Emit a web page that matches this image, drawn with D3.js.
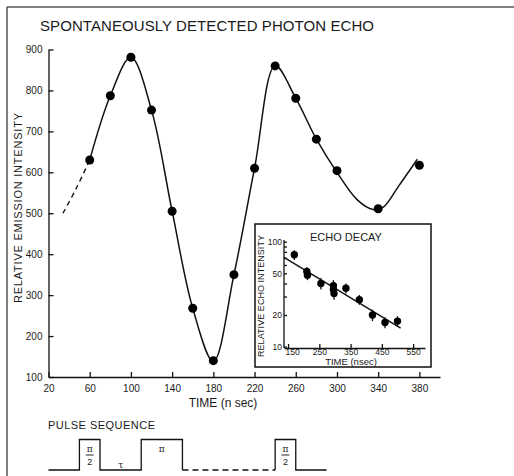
<!DOCTYPE html>
<html>
<head>
<meta charset="utf-8">
<title>Spontaneously Detected Photon Echo</title>
<script src="https://cdn.jsdelivr.net/npm/d3@7"></script>
<style>
body { margin: 0; background: #fff; }
svg text { font-family: "Liberation Sans", Arial, sans-serif; fill: #1a1a1a; }
.axis path, .axis line { stroke: #111; stroke-width: 1.3px; }
.axis text { font-size: 10px; }
</style>
</head>
<body>
<script>
// main plot - echo intensity vs time
var times = [60, 80, 100, 120, 140, 160, 180, 200, 220, 240, 260, 280, 300, 340, 380];
var intensity = [630, 787, 881, 752, 505, 268, 140, 350, 610, 860, 781, 681, 604, 511, 617];

// the drawn fit curve
var fitTimes = [60, 80, 100, 120, 140, 160, 180, 200, 220, 240, 260, 280, 300, 320, 335, 345, 360, 378];
var fitValues = [630, 787, 881, 752, 505, 268, 138, 350, 610, 860, 781, 681, 600, 532, 509, 515, 567, 632];
var dashTimes = [34, 47, 60];
var dashValues = [500, 561, 630];

var xTicks = [20, 60, 100, 140, 180, 220, 260, 300, 340, 380];
var yTicks = [100, 200, 300, 400, 500, 600, 700, 800, 900];

// inset - echo decay
var decayTimes = [170, 210, 212, 255, 295, 295, 297, 335, 378, 420, 460, 500];
var decayValues = [75, 52, 48, 40, 38, 35, 32, 36, 28, 20, 17, 17.5];
var decayErr = [8, 5, 5, 5, 5, 4, 4, 4, 3, 2.5, 2, 2];
var decayFitTimes = [137, 510];
var decayFitValues = [71, 15];
var decayXTicks = [150, 250, 350, 450, 550];
var decayYTicks = [10, 20, 30, 40, 50, 60, 70, 80, 90, 100];
var decayYLabels = [10, 20, 50, 100];

// pulse sequence: [time, level]
var pulseA = [[20, 0], [50, 0], [50, 1], [70, 1], [70, 0], [110, 0], [110, 1], [150, 1], [150, 0]];
var pulseGap = [[150, 0], [240, 0]];
var pulseB = [[240, 0], [240, 1], [260, 1], [260, 0], [290, 0]];

var W = 514, H = 476;
var svg = d3.select("body").append("svg").attr("width", W).attr("height", H);

// frame
svg.append("line").attr("x1", 7).attr("y1", 7).attr("x2", W).attr("y2", 7)
  .style("stroke", "#555").style("stroke-width", 1.5);
svg.append("line").attr("x1", 7).attr("y1", 7).attr("x2", 7).attr("y2", H)
  .style("stroke", "#555").style("stroke-width", 1.5);

svg.append("text").attr("x", 40).attr("y", 31)
  .attr("textLength", 334).attr("lengthAdjust", "spacing")
  .style("font-size", "15px")
  .text("SPONTANEOUSLY DETECTED PHOTON ECHO");

var x = d3.scaleLinear().domain([20, 400]).range([48.5, 440]);
var y = d3.scaleLinear().domain([100, 900]).range([377, 49.5]);

svg.append("g").attr("class", "axis")
  .attr("transform", "translate(0,377)")
  .call(d3.axisBottom(x).tickValues(xTicks).tickSize(-5).tickSizeOuter(0).tickPadding(8));

svg.append("g").attr("class", "axis")
  .attr("transform", "translate(48.5,0)")
  .call(d3.axisLeft(y).tickValues(yTicks).tickSize(-5).tickSizeOuter(0).tickPadding(6));

svg.append("text").attr("x", 223).attr("y", 407).attr("text-anchor", "middle")
  .style("font-size", "12px").text("TIME (n sec)");

svg.append("text").attr("transform", "translate(22,208) rotate(-90)")
  .attr("text-anchor", "middle")
  .attr("textLength", 190).attr("lengthAdjust", "spacing")
  .style("font-size", "11px").text("RELATIVE EMISSION INTENSITY");

var line = d3.line().x(function(d) { return x(d[0]); }).y(function(d) { return y(d[1]); });

svg.append("path")
  .datum(fitTimes.map(function(t, i) { return [t, fitValues[i]]; }))
  .attr("d", line.curve(d3.curveCatmullRom.alpha(0.5)))
  .style("fill", "none").style("stroke", "#111").style("stroke-width", 1.5);

svg.append("path")
  .datum(dashTimes.map(function(t, i) { return [t, dashValues[i]]; }))
  .attr("d", line.curve(d3.curveCatmullRom.alpha(0.5)))
  .style("fill", "none").style("stroke", "#111").style("stroke-width", 1.4)
  .style("stroke-dasharray", "5,4");

svg.selectAll(".dot").data(times).enter().append("circle")
  .attr("class", "dot")
  .attr("cx", function(d) { return x(d); })
  .attr("cy", function(d, i) { return y(intensity[i]); })
  .attr("r", 4.5).style("fill", "#000");

// inset
svg.append("rect").attr("x", 255).attr("y", 224).attr("width", 176).attr("height", 143)
  .style("fill", "#fff").style("stroke", "#111").style("stroke-width", 1.5);

var ix = d3.scaleLinear().domain([137, 588]).range([284, 425]);
var iy = d3.scaleLog().domain([10, 100]).range([346.6, 241.7]);

var ixAxis = svg.append("g").attr("class", "axis")
  .attr("transform", "translate(0,348)")
  .call(d3.axisBottom(ix).tickValues(decayXTicks).tickSize(-4).tickSizeOuter(0).tickPadding(1));
ixAxis.selectAll("text").style("font-size", "8.5px")
  .attr("dx", function(d) { return d === 150 ? 4 : 0; });

var iyAxis = svg.append("g").attr("class", "axis")
  .attr("transform", "translate(284,0)")
  .call(d3.axisLeft(iy).tickValues(decayYTicks).tickSize(-3).tickSizeOuter(0).tickPadding(2)
    .tickFormat(function(d) { return decayYLabels.indexOf(d) >= 0 ? d : ""; }));
iyAxis.selectAll("text").style("font-size", "8.5px");
iyAxis.select(".domain").attr("d", "M-0,348V240");

svg.append("text").attr("x", 346).attr("y", 241).attr("text-anchor", "middle")
  .style("font-size", "11px").text("ECHO DECAY");

svg.append("text").attr("x", 351).attr("y", 365).attr("text-anchor", "middle")
  .style("font-size", "9.5px").text("TIME (nsec)");

svg.append("text").attr("transform", "translate(264,296) rotate(-90)")
  .attr("text-anchor", "middle")
  .attr("textLength", 122).attr("lengthAdjust", "spacing")
  .style("font-size", "9px").text("RELATIVE ECHO INTENSITY");

svg.append("line")
  .attr("x1", ix(decayFitTimes[0])).attr("y1", iy(decayFitValues[0]))
  .attr("x2", ix(decayFitTimes[1])).attr("y2", iy(decayFitValues[1]))
  .style("stroke", "#111").style("stroke-width", 1.4);

svg.selectAll(".err").data(decayTimes).enter().append("line")
  .attr("class", "err")
  .attr("x1", function(d) { return ix(d); }).attr("x2", function(d) { return ix(d); })
  .attr("y1", function(d, i) { return iy(decayValues[i] - decayErr[i]); })
  .attr("y2", function(d, i) { return iy(decayValues[i] + decayErr[i]); })
  .style("stroke", "#111").style("stroke-width", 1.3);

svg.selectAll(".idot").data(decayTimes).enter().append("circle")
  .attr("class", "idot")
  .attr("cx", function(d) { return ix(d); })
  .attr("cy", function(d, i) { return iy(decayValues[i]); })
  .attr("r", 3.7).style("fill", "#000");

// pulse sequence
svg.append("text").attr("x", 48).attr("y", 429)
  .attr("textLength", 107).attr("lengthAdjust", "spacing")
  .style("font-size", "11px").text("PULSE SEQUENCE");

var py = d3.scaleLinear().domain([0, 1]).range([470, 439.5]);
var pline = d3.line().x(function(d) { return x(d[0]); }).y(function(d) { return py(d[1]); });

svg.append("path").datum(pulseA).attr("d", pline)
  .style("fill", "none").style("stroke", "#111").style("stroke-width", 1.3);
svg.append("path").datum(pulseGap).attr("d", pline)
  .style("fill", "none").style("stroke", "#111").style("stroke-width", 1.3)
  .style("stroke-dasharray", "6,4");
svg.append("path").datum(pulseB).attr("d", pline)
  .style("fill", "none").style("stroke", "#111").style("stroke-width", 1.3);

var halfPi = [60, 250];
halfPi.forEach(function(t) {
  var cx = x(t);
  svg.append("text").attr("x", cx).attr("y", 452).attr("text-anchor", "middle")
    .style("font-size", "9px").style("font-family", "DejaVu Serif").text("π");
  svg.append("line").attr("x1", cx - 4).attr("x2", cx + 4).attr("y1", 455).attr("y2", 455)
    .style("stroke", "#111").style("stroke-width", 0.9);
  svg.append("text").attr("x", cx).attr("y", 465).attr("text-anchor", "middle")
    .style("font-size", "9px").text("2");
});
svg.append("text").attr("x", x(130)).attr("y", 452).attr("text-anchor", "middle")
  .style("font-size", "9px").style("font-family", "DejaVu Serif").text("π");
svg.append("text").attr("x", x(90)).attr("y", 468).attr("text-anchor", "middle")
  .style("font-size", "9px").style("font-family", "DejaVu Serif").text("τ");
</script>
</body>
</html>
